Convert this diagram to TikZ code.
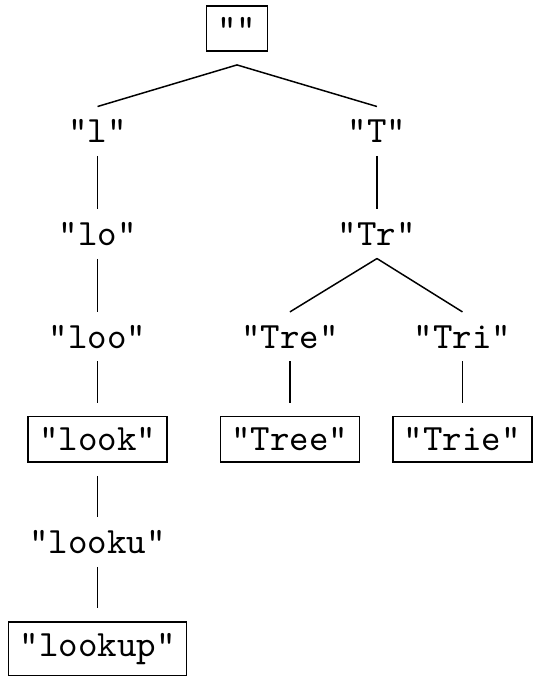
\documentclass[tikz,border=0pt]{standalone}
\begin{document}
\begin{tikzpicture}[y=0.9719cm,pre/.style={anchor=base,font=\ttfamily},
    word/.style={pre,draw,inner sep=3pt,outer sep=3.7pt}]
    \useasboundingbox (0,0.39) rectangle (5.120,-6.271);

    % the prefixes
    \node[word] (root) at (2.243,0) {""};
    \node[pre] (l) at (0.923,-1) {"l"};
    \node[pre] (lo) at (0.923,-2) {"lo"};
    \node[pre] (loo) at (0.923,-3) {"loo"};
    \node[word] (look) at (0.923,-4) {"look"};
    \node[pre] (looku) at (0.923,-5) {"looku"};
    \node[word] (lookup) at (0.923,-6) {"lookup"};
    \node[pre] (T) at (3.568,-1) {"T"};
    \node[pre] (Tr) at (3.568,-2) {"Tr"};
    \node[pre] (Tre) at (2.744,-3) {"Tre"};
    \node[pre] (Tri) at (4.377,-3) {"Tri"};
    \node[word] (Tree) at (2.744,-4) {"Tree"};
    \node[word] (Trie) at (4.377,-4) {"Trie"};

    \draw (root.south) -- (l.north);
    \draw (root.south) -- (T.north);
    \draw (l.south) -- (lo.north);
    \draw (lo.south) -- (loo.north);
    \draw (loo.south) -- (look.north);
    \draw (look.south) -- (looku.north);
    \draw (looku.south) -- (lookup.north);
    \draw (T.south) -- (Tr.north);
    \draw (Tr.south) -- (Tre.north);
    \draw (Tr.south) -- (Tri.north);
    \draw (Tre.south) -- (Tree.north);
    \draw (Tri.south) -- (Trie.north);
  \end{tikzpicture}
\end{document}
